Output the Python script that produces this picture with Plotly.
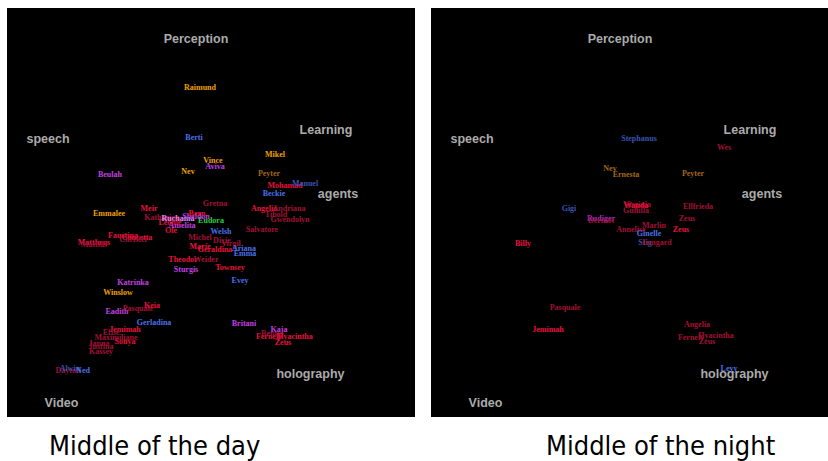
import plotly.graph_objects as go

# ---------------- data ----------------
anchor_words = ["Perception", "speech", "Learning", "agents", "holography", "Video"]
anchor_x = [189, 41, 319, 331, 303.5, 54.5]
anchor_y = [30, 130, 121, 185, 365, 394]

# group codes: O orange, BR brown, M magenta, B blue, DB dark blue,
# R red, DR dark red, G green, P purple, LM light magenta
day_names = ["Raimund", "Berti", "Vince", "Aviva", "Nev", "Beulah", "Gretna", "Meir",
             "Emmalee", "Mikel", "Peyter", "Mohamad", "Manuel", "Beckie", "Angelia",
             "Andriana", "Tibold", "Gwendolyn", "Salvatore", "Welsh", "Eudora", "Dixie",
             "Virgil", "Ariana", "Emma", "Marie", "Geraldina", "Michel", "Theodor",
             "Weider", "Townsey", "Sturgis", "Evey", "Ole", "Amelita", "Katharina",
             "Ruchama", "Sheldon", "Bern", "Leonie", "Faustina", "Concetta", "Christel",
             "Mattheus", "Mattias", "Katrinka", "Winslow", "Eadith", "Pasquale", "Keia",
             "Gerladina", "Jemimah", "Effie", "Maximiliane", "Sonya", "Janna", "Justina",
             "Kassey", "Dayton", "Alwin", "Ned", "Britani", "Kaja", "Fernely", "Benno",
             "Hyacintha", "Zeus"]
day_x = [193, 187, 206, 208, 181, 103, 208, 142,
         102, 268, 262, 278, 298, 267, 257,
         282, 269, 283, 255, 214, 204, 215,
         224, 237, 238, 193, 208, 193, 176,
         199, 223, 179, 233, 164, 175, 155,
         171, 189, 190, 163, 116, 130, 126,
         87, 87, 126, 111, 110, 131, 145,
         147, 118, 104, 109, 118, 92, 94,
         94, 61, 63, 76, 237, 272, 262, 265,
         288, 276]
day_y = [78, 128, 151, 157, 162, 165, 194, 199,
         204, 145, 164, 176, 174, 184, 199,
         199, 205, 210, 220, 222, 211, 231,
         234, 239, 244, 237, 240, 228, 250,
         250, 258, 260, 271, 221, 216, 208,
         209, 207, 204, 213, 226, 228, 230,
         233, 235, 273, 283, 302, 299, 296,
         313, 320, 323, 328, 332, 334, 337,
         342, 361, 359, 361, 314, 320, 327, 324,
         327, 333]
day_group = ["O", "B", "O", "M", "O", "M", "DR", "R",
             "O", "O", "BR", "R", "DB", "B", "R",
             "DR", "DR", "DR", "DR", "B", "G", "DR",
             "DR", "B", "B", "R", "R", "DR", "R",
             "DR", "R", "M", "B", "R", "M", "DR",
             "LM", "M", "R", "R", "R", "R", "DR",
             "R", "DR", "M", "O", "M", "DR", "R",
             "B", "R", "DR", "DR", "R", "DR", "DR",
             "DR", "DR", "DB", "B", "M", "M", "R", "DR",
             "R", "R"]

night_names = ["Stephanus", "Wes", "Nev", "Ernesta", "Peyter", "Gigi", "Rudiger", "Dermot",
               "Virginia", "Wanda", "Gunilla", "Ellfrieda", "Zeus", "Zeus", "Annelise",
               "Marlin", "Ginelle", "Stig", "Irmgard", "Billy", "Pasquale", "Jemimah",
               "Angelia", "Fernely", "Hyacintha", "Zeus", "Levy"]
night_x = [208, 293, 179, 195, 262, 138, 170, 170,
           206, 205, 205, 267, 256, 250, 200,
           223, 218, 214, 226, 92, 134, 117,
           266, 260, 285, 276, 298]
night_y = [129, 138, 159, 165, 164, 199, 209, 211,
           195, 196, 201, 197, 209, 220, 220,
           216, 224, 233, 233, 234, 298, 320,
           315, 328, 326, 332, 359]
night_group = ["DB", "DR", "BR", "BR", "BR", "DB", "P", "DR",
               "DR", "R", "DR", "DR", "DR", "R", "DR",
               "DR", "B", "DB", "DR", "R", "DR", "R",
               "DR", "DR", "DR", "DR", "B"]

captions = ["Middle of the day", "Middle of the night"]

# ---------------- styles ----------------
group_colors = {"O": "#f0a000", "BR": "#a0681a", "M": "#c040e0", "B": "#4a70ea",
                "DB": "#3a52b0", "R": "#e8103c", "DR": "#a21035", "G": "#20d040",
                "P": "#a030c8", "LM": "#e090ff"}

W, H = 828, 461
name_font = "Liberation Serif, Times New Roman, serif"
anchor_font = "Liberation Sans, Arial, sans-serif"

fig = go.Figure()

panels = [(day_names, day_x, day_y, day_group, "x", "y"),
          (night_names, night_x, night_y, night_group, "x2", "y2")]
for names, xs, ys, groups, xa, ya in panels:
    fig.add_trace(go.Scatter(
        x=anchor_x, y=anchor_y, text=anchor_words, mode="text",
        textposition="middle center",
        textfont=dict(family=anchor_font, size=12.5, color="#ababab", weight="bold"),
        xaxis=xa, yaxis=ya, hoverinfo="skip"))
    fig.add_trace(go.Scatter(
        x=xs, y=ys, text=names, mode="text", textposition="middle center",
        textfont=dict(family=name_font, size=8, weight="bold",
                      color=[group_colors[g] for g in groups]),
        xaxis=xa, yaxis=ya, hoverinfo="skip"))

ax_common = dict(showgrid=False, zeroline=False, showticklabels=False, ticks="",
                 showline=False, fixedrange=True)
top, bottom = 1 - 8 / H, 1 - 417 / H
fig.update_layout(
    width=W, height=H, margin=dict(l=0, r=0, t=0, b=0),
    paper_bgcolor="white", plot_bgcolor="black", showlegend=False,
    xaxis=dict(domain=[7 / W, 415 / W], range=[0, 408], **ax_common),
    yaxis=dict(domain=[bottom, top], range=[407.5, -1.5], **ax_common),
    xaxis2=dict(domain=[431 / W, 1.0], range=[0, 397], anchor="y2", **ax_common),
    yaxis2=dict(domain=[bottom, top], range=[407.5, -1.5], anchor="x2", **ax_common),
)

cap_pos = [(154.5 / W, "center"), (777 / W, "right")]
for (cx, anc), txt in zip(cap_pos, captions):
    fig.add_annotation(x=cx, y=1 - 445 / H, xref="paper", yref="paper",
                       text=txt, showarrow=False, xanchor=anc, yanchor="middle",
                       font=dict(family="DejaVu Sans Condensed, DejaVu Sans, sans-serif",
                                 size=27, color="black"))

fig.write_html("out.html", config={"displayModeBar": False},
               post_script="document.body.style.margin='0';document.body.style.overflow='hidden';")
